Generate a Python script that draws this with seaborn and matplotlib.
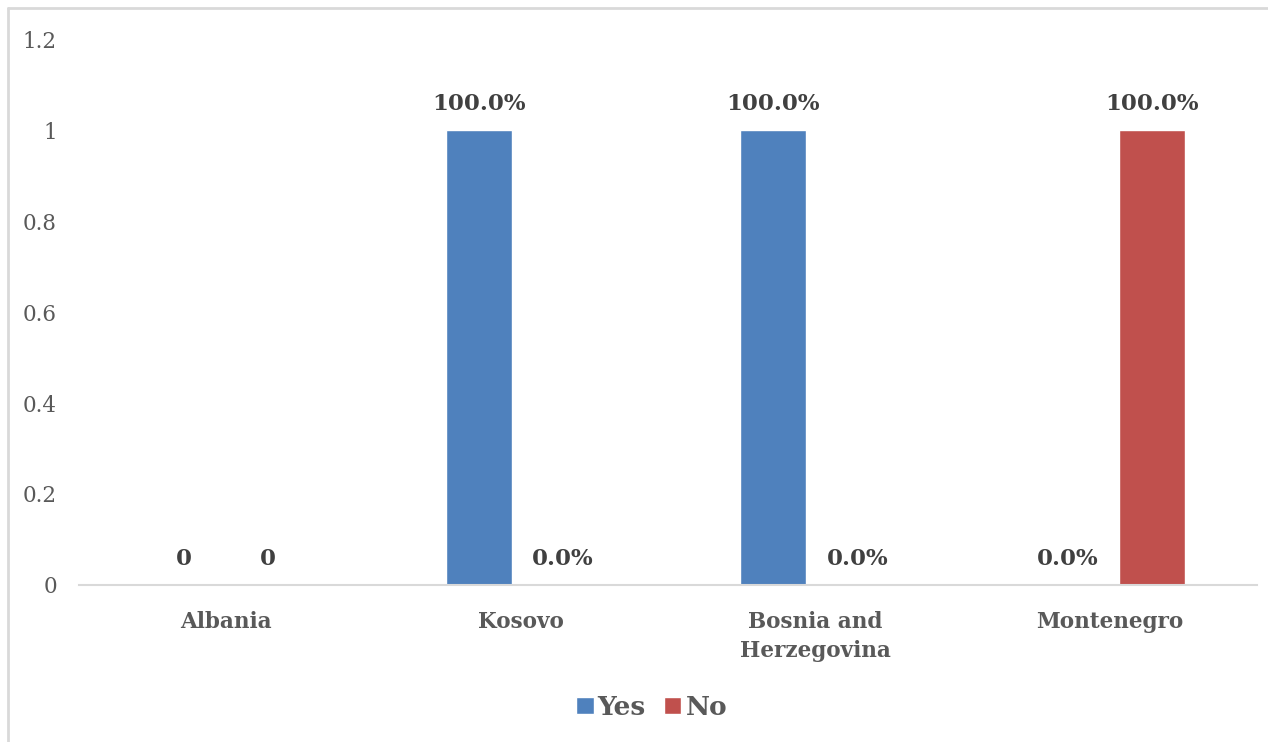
import pandas as pd
import matplotlib.pyplot as plt
import seaborn as sns
from matplotlib.lines import Line2D
from matplotlib.patches import Patch
from matplotlib.ticker import FuncFormatter

# data
countries = ["Albania", "Kosovo", "Bosnia and\nHerzegovina", "Montenegro"]
yes_vals = [0, 1, 1, 0]
no_vals = [0, 0, 0, 1]
yes_labels = ["0", "100.0%", "100.0%", "0.0%"]
no_labels = ["0", "0.0%", "0.0%", "100.0%"]
series = ["Yes", "No"]
colors = {"Yes": "#4F81BD", "No": "#C0504D"}

df = pd.DataFrame({
    "country": countries * 2,
    "value": yes_vals + no_vals,
    "answer": ["Yes"] * 4 + ["No"] * 4,
})

sns.set_style("white")
plt.rcParams['font.family'] = ['DejaVu Serif']

fig = plt.figure(figsize=(12.68, 7.42), dpi=100)
ax = fig.add_axes([0.0623, 0.2116, 0.929, 0.7358])

sns.barplot(data=df, x="country", y="value", hue="answer", hue_order=series,
            palette=colors, width=0.57, gap=0.21, legend=False, ax=ax,
            saturation=1)

# data labels
for cont, labs in zip(ax.containers, [yes_labels, no_labels]):
    ax.bar_label(cont, labels=labs, padding=11, fontsize=16.5, fontweight="bold",
                 color="#404040")

ax.set_ylim(0, 1.2)
ax.set_yticks([0, 0.2, 0.4, 0.6, 0.8, 1.0, 1.2])
ax.yaxis.set_major_formatter(FuncFormatter(lambda v, p: f"{v:g}"))
ax.set_xlim(-0.5, 3.5)
ax.set_xlabel("")
ax.set_ylabel("")

for s in ["top", "right", "left"]:
    ax.spines[s].set_visible(False)
ax.spines["bottom"].set_color("#D9D9D9")
ax.spines["bottom"].set_linewidth(1.5)
ax.tick_params(axis="both", length=0)
ax.tick_params(axis="y", labelsize=15.5, labelcolor="#595959", pad=16)
ax.tick_params(axis="x", labelsize=15.5, labelcolor="#595959", pad=19)
for t in ax.get_xticklabels():
    t.set_fontweight("bold")
    t.set_linespacing(1.4)

# legend at the bottom
handles = [Patch(facecolor=colors[s], label=s) for s in series]
leg = fig.legend(handles=handles, loc="center", bbox_to_anchor=(0.514, 0.047),
                 ncol=2, frameon=False, handlelength=0.65, handleheight=0.65,
                 handletextpad=0.15, columnspacing=0.7,
                 prop={"size": 19, "weight": "bold"})
for t in leg.get_texts():
    t.set_color("#595959")

# chart area border (top and left visible)
fig.add_artist(Line2D([0.0063, 1.0], [0.9892, 0.9892], color="#D9D9D9", lw=2,
                      transform=fig.transFigure))
fig.add_artist(Line2D([0.0063, 0.0063], [0.0, 0.9892], color="#D9D9D9", lw=2,
                      transform=fig.transFigure))

fig.savefig("out.png", dpi=100)
